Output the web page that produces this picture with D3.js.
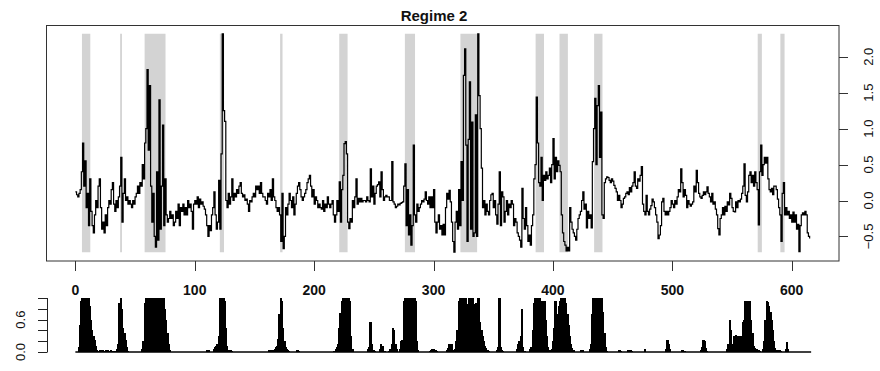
<!DOCTYPE html>
<html><head><meta charset="utf-8">
<script src="https://cdn.jsdelivr.net/npm/d3@7"></script>
<style>body{margin:0;background:#fff;} svg{display:block;font-family:"Liberation Sans",Arial,sans-serif;}</style>
</head><body>
<script>
const title = "Regime 2";
const regimeSeries = [
0.12,0.08,0.05,0.1,0.15,0.4,0.8,0.2,0.55,-0.1,
0.1,-0.35,0.3,-0.15,-0.35,-0.45,-0.2,0.0,-0.1,0.2,
0.3,-0.1,-0.4,-0.3,-0.45,-0.2,-0.35,-0.1,0.0,-0.05,
0.15,0.25,-0.05,-0.15,0.0,-0.1,0.05,0.2,0.6,-0.3,
0.1,0.3,0.0,0.05,-0.05,0.0,-0.05,-0.1,0.0,-0.05,
0.05,0.1,0.2,0.1,0.25,0.2,0.5,0.3,0.8,1.0,
1.82,0.7,1.6,0.2,-0.3,0.1,-0.5,-0.65,0.4,-0.55,
1.4,-0.4,0.2,1.05,-0.35,0.3,-0.2,-0.3,-0.25,-0.15,
-0.25,-0.2,-0.35,-0.3,-0.15,-0.25,-0.05,-0.35,-0.1,-0.15,
-0.05,-0.2,-0.1,-0.2,0.0,-0.1,-0.05,-0.15,-0.4,-0.05,
0.0,-0.05,0.05,-0.1,0.02,-0.05,-0.02,-0.08,-0.12,-0.2,
-0.35,-0.5,-0.35,-0.42,-0.2,-0.1,0.12,-0.2,-0.4,-0.3,
0.28,-0.4,0.65,2.32,1.25,1.1,0.0,-0.1,0.1,-0.05,
0.05,0.3,0.0,0.1,0.05,0.15,0.1,0.2,0.25,0.1,
0.05,0.08,0.0,0.02,-0.05,-0.15,0.0,-0.02,0.05,0.1,
0.05,0.2,0.15,0.2,0.1,0.25,0.1,0.05,0.05,0.0,
-0.05,0.1,0.05,0.15,0.0,0.3,0.05,0.0,-0.1,-0.15,
-0.1,-0.2,-0.57,0.1,-0.67,-0.5,-0.1,-0.2,-0.05,0.1,
0.0,-0.1,0.05,-0.2,-0.05,0.1,0.2,0.25,0.15,0.05,
0.0,0.05,0.1,0.15,0.25,0.3,0.35,0.2,0.05,0.15,
-0.05,0.05,0.0,-0.1,-0.05,-0.1,-0.12,0.0,-0.15,-0.05,
-0.1,0.05,-0.05,-0.1,-0.05,0.0,-0.2,-0.3,-0.2,0.0,
-0.15,0.26,-0.3,0.15,0.35,0.79,0.82,0.65,-0.3,-0.39,
-0.25,-0.3,0.0,-0.1,0.05,0.3,-0.05,0.03,-0.02,0.03,
-0.02,0.0,0.0,-0.02,0.05,0.0,-0.02,0.44,0.05,0.2,
-0.05,0.1,0.2,0.22,0.26,0.05,0.4,0.15,0.0,0.05,
0.07,0.05,0.05,0.0,0.0,0.54,-0.02,-0.05,-0.1,-0.08,
-0.05,-0.06,-0.04,-0.03,-0.02,0.2,0.51,-0.35,0.15,-0.48,
-0.2,-0.62,-0.35,0.77,-0.2,-0.3,-0.05,-0.15,-0.1,-0.05,
0.0,-0.02,0.02,0.12,0.0,-0.05,0.05,-0.1,0.05,-0.1,
0.15,-0.3,-0.45,-0.3,-0.2,-0.4,-0.35,-0.48,-0.33,-0.48,
-0.1,0.1,0.02,0.14,-0.02,-0.3,-0.57,-0.72,-0.3,-0.15,
-0.4,0.15,-0.35,0.54,0.0,1.74,2.11,0.77,-0.57,0.85,
1.65,-0.4,1.09,-0.5,-0.45,1.19,-0.5,2.32,1.46,1.0,
0.45,-0.1,0.0,-0.2,-0.05,-0.15,-0.2,0.0,0.08,0.1,
-0.1,0.0,-0.2,-0.33,-0.05,0.4,-0.35,0.12,0.05,-0.3,
-0.15,0.0,-0.2,-0.05,-0.1,0.0,-0.05,-0.35,-0.25,-0.3,
-0.45,-0.5,-0.55,-0.65,0.17,-0.25,-0.4,-0.1,-0.35,-0.57,
-0.48,-0.62,-0.35,-0.2,0.3,0.5,1.44,0.8,0.25,0.2,
0.6,0.0,0.35,0.28,0.4,0.3,0.35,0.45,0.25,0.5,
0.86,0.3,0.6,0.4,0.55,0.49,0.4,-0.2,-0.45,-0.57,
-0.62,-0.7,-0.65,-0.7,-0.1,-0.3,-0.4,-0.45,-0.5,-0.55,
-0.4,-0.25,-0.2,-0.15,0.0,0.12,-0.12,-0.05,-0.38,-0.15,
-0.25,-0.2,-0.38,0.54,1.0,1.42,0.5,1.32,1.6,0.6,
1.23,-0.2,-0.25,0.25,0.3,0.33,0.32,0.28,0.25,0.3,
0.27,0.21,0.17,0.12,0.0,0.07,0.0,-0.1,-0.05,0.03,
0.05,0.1,0.12,0.08,0.18,0.12,0.2,0.25,0.4,0.2,
0.17,0.3,0.27,0.35,0.47,-0.05,-0.15,-0.2,0.07,-0.15,
-0.2,-0.12,-0.07,0.02,-0.02,-0.1,-0.2,-0.3,-0.53,-0.48,
-0.35,-0.02,0.03,-0.15,-0.2,-0.15,-0.2,-0.15,-0.1,0.0,
-0.05,-0.1,0.0,-0.05,0.05,0.15,0.12,0.44,0.25,0.05,
0.15,0.07,-0.1,0.0,-0.05,-0.08,-0.05,-0.02,0.2,0.12,
0.42,0.25,0.1,0.05,0.03,0.07,0.12,0.08,0.12,0.19,
0.1,0.05,-0.02,0.1,-0.05,-0.02,-0.12,-0.2,-0.39,-0.48,
-0.25,-0.2,-0.1,-0.2,-0.08,-0.15,-0.02,-0.06,0.1,0.03,
-0.1,-0.15,-0.16,-0.02,-0.1,0.0,-0.02,0.02,0.1,0.2,
0.51,0.07,-0.02,0.12,0.35,0.4,0.25,0.35,0.2,0.4,
0.25,0.15,-0.34,0.4,0.77,0.35,0.5,0.6,0.52,0.6,
0.3,0.15,0.12,0.17,0.08,0.2,0.2,0.15,0.02,-0.1,
-0.2,-0.57,0.1,0.25,-0.2,-0.1,-0.2,-0.15,-0.25,-0.2,
-0.3,-0.16,-0.3,-0.2,-0.4,-0.33,-0.71,-0.35,-0.2,-0.17,
-0.2,-0.15,-0.2,-0.45,-0.5,-0.53
];
const regimeProb = [
0,0,0,0.1,0.5,0.95,1,1,1,1,
1,1,0.85,0.6,0.4,0.3,0.22,0.12,0.03,0,
0.02,0.03,0,0.03,0.02,0,0.03,0.03,0,0.02,
0.03,0.02,0,0.02,0,0.05,0.15,0.9,1,0.8,
0.45,0.35,0.22,0.1,0.02,0,0,0,0,0,
0,0,0,0,0,0,0.05,0.2,0.9,1,
1,1,1,1,1,0.97,1,1,1,1,
1,1,1,1,1,0.8,0.6,0.35,0.15,0.03,
0,0,0,0,0,0,0,0,0,0,
0,0,0,0,0,0,0,0,0,0,
0,0,0,0,0,0,0,0,0,0,
0.03,0.02,0.03,0,0,0,0.05,0.1,0.12,0.15,
0.3,1,1,1,1,0.95,0.45,0.12,0.04,0,
0.03,0.02,0,0,0,0,0,0,0,0,
0,0,0,0,0,0,0,0,0,0,
0,0,0,0,0,0,0,0,0,0,
0,0,0.03,0.02,0.03,0,0.03,0.05,0.1,0.12,
0.25,0.7,1,0.95,0.45,0.2,0.1,0.05,0.03,0.02,
0,0,0,0,0,0,0.03,0.02,0,0,
0,0,0,0,0,0,0,0,0,0,
0,0,0,0,0,0,0,0,0,0,
0,0,0,0,0,0,0,0.02,0.05,0.1,
0.15,0.45,0.72,0.95,1,1,1,1,1,1,
0.95,0.3,0.05,0,0,0,0,0,0,0,
0,0,0,0,0,0.05,0.1,0.55,0.15,0.03,
0.03,0.02,0,0,0,0.05,0.15,0.12,0.02,0.02,
0,0,0,0.02,0.05,0.15,0.45,0.4,0.15,0.05,
0,0,0.05,0.2,0.22,0.95,1,1,1,1,
1,1,1,1,1,0.95,0.2,0.03,0,0,
0,0,0,0,0,0,0,0.02,0.03,0.05,
0.05,0.04,0.03,0.02,0,0,0,0,0,0,
0,0.03,0.08,0.15,0.15,0.14,0.03,0,0.05,0.2,
0.4,0.95,1,1,1,1,1,1,0.88,0.88,
1,1,1,1,0.88,0.88,0.9,1,1,0.55,
0.4,0.3,0.2,0.12,0.07,0.04,0.02,0,0,0,
0,0,0,0.03,0.1,1,0.1,0.03,0.02,0,
0,0,0,0,0,0,0,0,0,0,
0.05,0.15,0.2,0.3,0.8,0.1,0.02,0,0,0,
0,0.05,0.1,0.4,0.9,1,1,1,0.75,1,
0.95,0.95,0.92,0.95,0.6,0.3,0.1,0.03,0,0.05,
0.2,0.45,0.95,0.3,0.7,0.85,0.95,1,1,1,
1,0.9,0.7,0.5,0.3,0.15,0.08,0.04,0,0,
0,0,0,0,0.03,0.03,0,0,0,0,
0,0.05,0.15,0.7,1,1,1,1,1,1,
1,1,0.75,0.35,0.1,0.02,0,0,0,0,
0,0,0,0,0,0.03,0.03,0.02,0,0,
0,0,0,0.03,0.03,0.03,0.02,0,0,0,
0,0,0,0,0,0,0,0.05,0,0,
0,0,0,0,0,0,0,0,0,0,
0,0,0,0,0,0.05,0.22,0.15,0.05,0,
0,0,0,0,0,0,0,0,0.04,0.03,
0.02,0,0,0,0,0,0,0,0,0,
0,0,0,0,0.03,0.1,0.22,0.2,0.08,0.02,
0,0,0,0,0,0,0,0,0,0,
0,0,0,0,0,0,0.05,0.15,0.6,0.4,
0.15,0.15,0.3,0.32,0.25,0.3,0.15,0.3,0.3,0.55,
0.6,0.95,0.9,0.95,0.95,0.95,0.6,0.35,0.12,0.08,
0.06,0.05,0.04,0.02,0,0,0.05,0.2,0.6,0.95,
0.92,0.85,0.75,0.6,0.4,0.2,0.08,0.04,0.03,0.03,
0.03,0.02,0,0,0,0.05,0.18,0.05,0,0,
0,0,0,0,0,0
];
const shadedPeriods = [
[5.5,12.5],[37.5,39],[58,75.5],[121,124.5],[171.5,173.5],[221,228],
[276,284.5],[322.5,336.5],[385.5,392.5],[405.5,412.5],[434.5,441.5],
[571.5,575],[590.5,594]
];
const xTicks = [0,100,200,300,400,500,600];
const yTicks = [-0.5,0,0.5,1,1.5,2];
const probTicks = [0,0.2,0.4,0.6,0.8,1];
const probTickLabels = {"0":"0.0","0.6":"0.6"};

const W = 880, H = 371;
const svg = d3.select("body").append("svg").attr("width", W).attr("height", H);
svg.append("rect").attr("width", W).attr("height", H).attr("fill", "#fff");

const n = regimeSeries.length;
const idx = d3.range(n);
const xPad = 0.04 * (n - 1);
const x = d3.scaleLinear().domain([-xPad, n - 1 + xPad]).range([46, 839]);
const [yMin, yMax] = d3.extent(regimeSeries);
const yPad = 0.04 * (yMax - yMin);
const y = d3.scaleLinear().domain([yMin - yPad, yMax + yPad]).range([261, 25]);

// shaded regime periods
svg.append("g").selectAll("rect").data(shadedPeriods).join("rect")
  .attr("x", d => x(d[0])).attr("width", d => x(d[1]) - x(d[0]))
  .attr("y", y(yMax)).attr("height", y(yMin) - y(yMax))
  .attr("fill", "#d3d3d3");

// series line (step style)
const line = d3.line().x(i => x(i)).y(i => y(regimeSeries[i])).curve(d3.curveStepAfter);
svg.append("path").datum(idx).attr("d", line)
  .attr("fill", "none").attr("stroke", "#000").attr("stroke-width", 1.2);

// box
svg.append("rect").attr("x", 46.5).attr("y", 25.5).attr("width", 792.5).attr("height", 235.5)
  .attr("fill", "none").attr("stroke", "#333").attr("stroke-width", 1);

// bottom x axis
const xAxis = svg.append("g");
xAxis.selectAll("line").data(xTicks).join("line")
  .attr("x1", d => Math.round(x(d)) + 0.5).attr("x2", d => Math.round(x(d)) + 0.5)
  .attr("y1", 261).attr("y2", 271).attr("stroke", "#333");
xAxis.selectAll("text").data(xTicks).join("text")
  .attr("x", d => x(d)).attr("y", 294.5).attr("text-anchor", "middle")
  .attr("font-size", 14).attr("font-weight", "bold").attr("fill", "#111").text(d => d);

// right y axis
const yAxis = svg.append("g");
yAxis.selectAll("line").data(yTicks).join("line")
  .attr("x1", 839).attr("x2", 848)
  .attr("y1", d => Math.round(y(d)) + 0.5).attr("y2", d => Math.round(y(d)) + 0.5).attr("stroke", "#333");
yAxis.selectAll("text").data(yTicks).join("text")
  .attr("transform", d => `translate(873,${y(d)}) rotate(-90)`)
  .attr("text-anchor", "middle").attr("font-size", 13).attr("fill", "#111")
  .text(d => d3.format(".1f")(d));

// title
svg.append("text").attr("x", 434).attr("y", 21).attr("text-anchor", "middle")
  .attr("font-size", 15).attr("font-weight", "bold").attr("fill", "#111").text(title);

// bottom panel: probabilities
const yp = d3.scaleLinear().domain([0, 1]).range([352, 298]);
svg.append("g").selectAll("rect").data(idx.filter(i => regimeProb[i] > 0)).join("rect")
  .attr("x", i => x(i) - 1.1).attr("width", 2.4)
  .attr("y", i => yp(regimeProb[i])).attr("height", i => yp(0) - yp(regimeProb[i]))
  .attr("fill", "#000").attr("shape-rendering", "crispEdges");
svg.append("line").attr("x1", x(0)).attr("x2", x(n - 1) + 1.5)
  .attr("y1", yp(0)).attr("y2", yp(0)).attr("stroke", "#000").attr("stroke-width", 1.5);

const pAxis = svg.append("g");
pAxis.append("line").attr("x1", 47.5).attr("x2", 47.5).attr("y1", yp(1)).attr("y2", yp(0)).attr("stroke", "#222");
pAxis.selectAll("line.t").data(probTicks).join("line").attr("class", "t")
  .attr("x1", 38).attr("x2", 47.5)
  .attr("y1", d => Math.round(yp(d)) + 0.5).attr("y2", d => Math.round(yp(d)) + 0.5).attr("stroke", "#222");
pAxis.selectAll("text").data(probTicks.filter(d => probTickLabels[String(d)])).join("text")
  .attr("transform", d => `translate(25,${yp(d)}) rotate(-90)`)
  .attr("text-anchor", "middle").attr("font-size", 13).attr("fill", "#111")
  .text(d => probTickLabels[String(d)]);
</script>
</body></html>
